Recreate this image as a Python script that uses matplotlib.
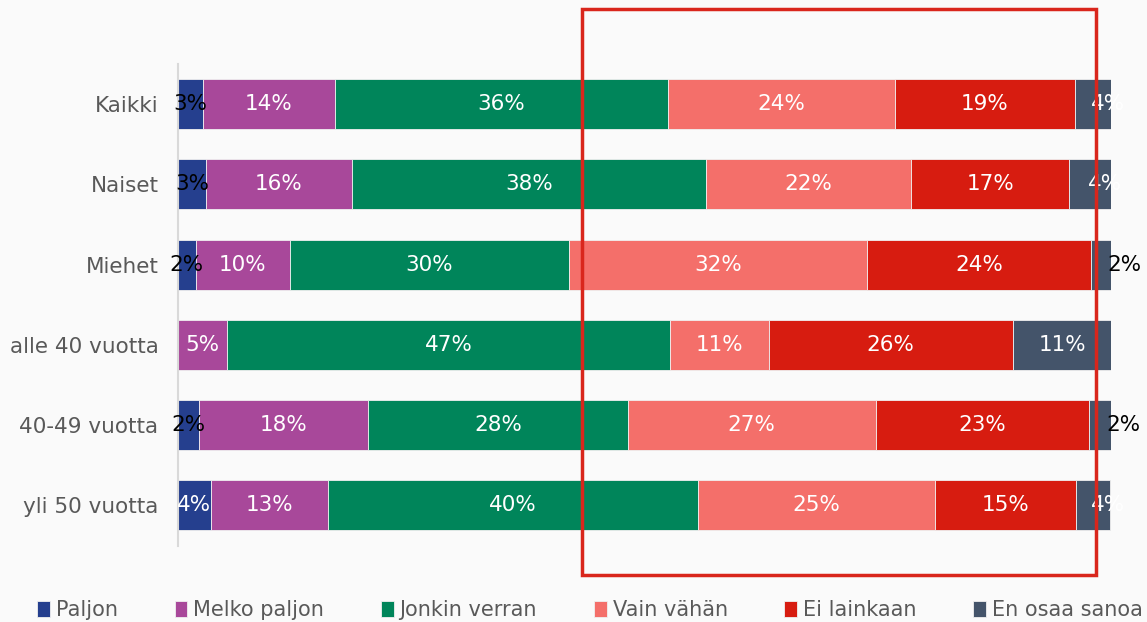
import numpy as np
import matplotlib.pyplot as plt
from matplotlib.patches import Rectangle

categories = ['Kaikki', 'Naiset', 'Miehet', 'alle 40 vuotta', '40-49 vuotta', 'yli 50 vuotta']
series = ['Paljon', 'Melko paljon', 'Jonkin verran', 'Vain vähän', 'Ei lainkaan', 'En osaa sanoa']

# osuudet (%) luettu kuvasta
paljon = [2.7, 3.0, 1.9, 0.0, 2.3, 3.5]
melko_paljon = [14.1, 15.6, 10.1, 5.3, 18.1, 12.6]
jonkin_verran = [35.7, 38.0, 29.9, 47.4, 27.8, 39.6]
vain_vahan = [24.4, 22.0, 32.0, 10.6, 26.6, 25.4]
ei_lainkaan = [19.2, 16.9, 24.0, 26.2, 22.8, 15.2]
en_osaa = [3.9, 4.5, 2.1, 10.6, 2.5, 3.6]

values = [paljon, melko_paljon, jonkin_verran, vain_vahan, ei_lainkaan, en_osaa]
colors = ['#253f8e', '#a8489a', '#00855a', '#f46f6a', '#d71c10', '#44546a']

bg = '#fafafa'
fs = 15.5
fig = plt.figure(figsize=(11.47, 6.22), dpi=100, facecolor=bg)
ax = fig.add_axes([178/1147, 1 - 545.5/622, 933/1147, 481.5/622])
ax.set_facecolor(bg)

y = np.arange(len(categories))
left = np.zeros(len(categories))
for i, (name, vals, col) in enumerate(zip(series, values, colors)):
    vals = np.array(vals)
    ax.barh(y, vals, left=left, height=0.625, color=col, label=name,
            edgecolor='#f0f0f0', linewidth=0.6)
    for j, v in enumerate(vals):
        if v <= 0:
            continue
        lab = f'{round(v):.0f}%'
        tc = 'black' if round(v) <= 3 else 'white'
        x = left[j] + v / 2
        if i == len(series) - 1 and v < 5:
            x += 2.5 if tc == 'black' else 1.6
        ax.text(x, y[j], lab, ha='center', va='center', color=tc, fontsize=fs)
    left += vals

ax.set_xlim(0, 100)
ax.set_ylim(len(categories) - 0.5, -0.5)
ax.set_yticks(y)
ax.set_yticklabels(categories, fontsize=fs, color='#595959')
ax.tick_params(axis='y', length=0, pad=14)
ax.set_xticks([])
for s in ['top', 'right', 'bottom']:
    ax.spines[s].set_visible(False)
ax.spines['left'].set_color('#d9d9d9')
ax.spines['left'].set_linewidth(1.5)

leg = fig.legend(loc='lower center', bbox_to_anchor=(0.5144, -0.027), ncol=6, frameon=False,
                 fontsize=15, handlelength=0.62, handleheight=0.8, handletextpad=0.28,
                 columnspacing=2.72)
for t in leg.get_texts():
    t.set_color('#595959')

# punainen korostuslaatikko
fig.patches.append(Rectangle((582/1147, 1 - 575/622), 514/1147, 566/622,
                             transform=fig.transFigure, fill=False,
                             edgecolor='#d9261c', linewidth=2.5))

fig.savefig('out.png', dpi=100, facecolor=bg)
